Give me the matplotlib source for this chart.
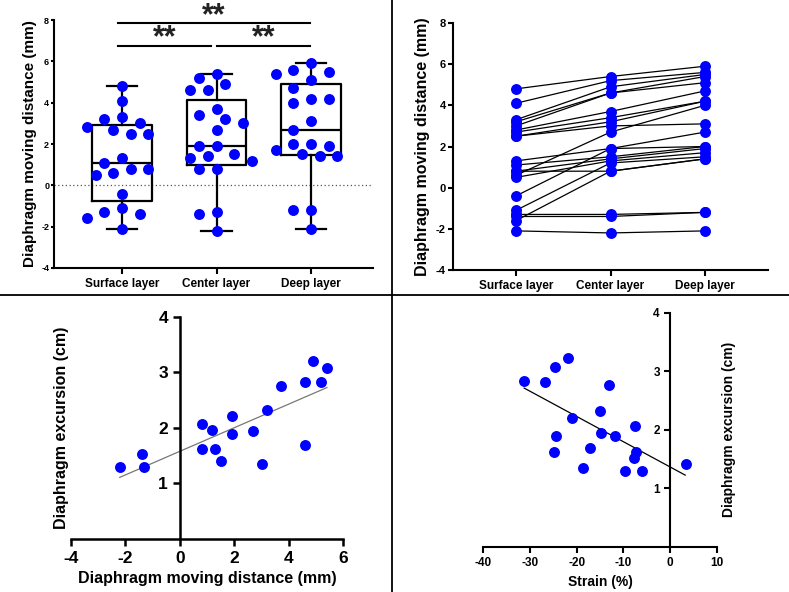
import numpy as np
import matplotlib
matplotlib.use('Agg')
import matplotlib.pyplot as plt

plt.rcParams['font.family'] = ['Liberation Sans', 'DejaVu Sans']
plt.rcParams['font.weight'] = 'bold'
plt.rcParams['axes.unicode_minus'] = False

# ---------------- data ----------------
categories = ['Surface layer', 'Center layer', 'Deep layer']
surface = [4.8, 4.1, 3.3, 3.2, 3.0, 2.8, 2.7, 2.5, 2.5, 0.6, 1.3, -0.4, 1.1, 0.8, 0.8, 0.5, -1.1, -1.6, -1.3, -1.4, -2.1]
center = [5.4, 5.2, 4.9, 4.6, 4.6, 3.7, 3.4, 3.2, 3.0, 2.7, 1.9, 1.9, 1.5, 1.4, 0.8, 1.3, 1.2, 0.8, -1.3, -1.4, -2.2]
deep = [5.9, 5.6, 5.5, 5.4, 5.1, 4.7, 4.2, 4.2, 3.1, 4.0, 2.7, 2.0, 2.0, 1.9, 1.4, 1.7, 1.5, 1.4, -1.2, -1.2, -2.1]

move_dist = [-2.2, -1.4, -1.3, 0.8, 0.8, 1.2, 1.3, 1.5, 1.9, 1.9, 2.7, 3.0, 3.2, 3.7, 4.6, 4.6, 4.9, 5.2, 5.4]
excursion_a = [1.29, 1.53, 1.29, 2.06, 1.61, 1.95, 1.61, 1.40, 2.21, 1.88, 1.94, 1.34, 2.32, 2.76, 2.83, 1.68, 3.21, 2.82, 3.07]

strain = [-31.2, -26.8, -24.6, -21.8, -13.1, -15.1, -20.9, -24.4, -24.9, -14.7, -11.8, -7.5, -17.1, -18.6, -9.6, -6.0, -7.4, -7.8, 3.4]
excursion_b = [2.84, 2.82, 3.07, 3.22, 2.77, 2.32, 2.20, 1.90, 1.62, 1.95, 1.89, 2.07, 1.68, 1.35, 1.30, 1.30, 1.62, 1.52, 1.41]

yticks_top = [-4, -2, 0, 2, 4, 6, 8]
sig_label = '**'

BLUE = '#0000ff'
W, H = 789, 592
fig = plt.figure(figsize=(W / 100, H / 100), dpi=100)


def px_axes(l, t, r, b):
    return fig.add_axes([l / W, 1 - b / H, (r - l) / W, (b - t) / H])


def swarm_offsets(vals, px_per_unit_y, px_per_unit_x, step_px=8.8, min_d=12.5):
    vals = np.asarray(vals, float)
    order = np.argsort(-vals)
    placed = []
    offs = np.zeros(len(vals))
    cands = [0]
    for k in range(1, 8):
        cands += [-k, k]
    for i in order:
        y = vals[i] * px_per_unit_y
        for k in cands:
            x = k * step_px
            if all((x - px) ** 2 + (y - py) ** 2 >= min_d ** 2 for px, py in placed):
                placed.append((x, y))
                offs[i] = x / px_per_unit_x
                break
    return offs


groups = [surface, center, deep]

# ---------------- top-left: box plot ----------------
ax1 = px_axes(54, 20, 373, 268)
ax1.set_xlim(-0.72, 2.656)
ax1.set_ylim(-4, 8)
stats = []
for g in groups:
    a = np.asarray(g)
    q1, med, q3 = np.percentile(a, [25, 50, 75], method='weibull')
    stats.append(dict(med=med, q1=q1, q3=q3, whislo=a.min(), whishi=a.max(), fliers=[]))
ax1.bxp(stats, positions=[0, 1, 2], widths=0.63, showfliers=False,
        boxprops=dict(color='black', lw=1.6), medianprops=dict(color='black', lw=1.6),
        whiskerprops=dict(color='black', lw=1.6), capprops=dict(color='black', lw=1.6),
        capwidths=0.32, zorder=2)
ax1.axhline(0, color='#555555', lw=0.9, ls=(0, (1, 2)), zorder=1)
for i, g in enumerate(groups):
    offs = swarm_offsets(g, 20.67, 94.5)
    ax1.scatter(np.full(len(g), i) + offs, g, s=62, color=BLUE, zorder=3, lw=0)
ax1.set_xticks([0, 1, 2])
ax1.set_xticklabels(categories, fontsize=8.5, fontweight='bold')
ax1.set_yticks(yticks_top)
ax1.tick_params(axis='y', labelsize=6.5, width=1.5, length=2.5, pad=1)
ax1.tick_params(axis='x', width=1.5, length=4)
for s in ['top', 'right']:
    ax1.spines[s].set_visible(False)
for s in ['left', 'bottom']:
    ax1.spines[s].set_linewidth(1.5)
ax1.set_ylabel('Diaphragm moving distance (mm)', fontsize=11, fontweight='bold')
ax1.yaxis.set_label_coords(-0.052, 0.5)
# significance bars
ax1.plot([-0.04, 1.99], [7.84, 7.84], color='black', lw=1.5, clip_on=False)
ax1.plot([-0.04, 0.94], [6.76, 6.76], color='black', lw=1.5, clip_on=False)
ax1.plot([1.01, 1.99], [6.76, 6.76], color='black', lw=1.5, clip_on=False)
ax1.text(0.97, 7.45, sig_label, ha='center', va='bottom', fontsize=22, fontweight='bold', color='#222222', clip_on=False)
ax1.text(0.45, 6.37, sig_label, ha='center', va='bottom', fontsize=22, fontweight='bold', color='#222222')
ax1.text(1.5, 6.37, sig_label, ha='center', va='bottom', fontsize=22, fontweight='bold', color='#222222')

# ---------------- top-right: paired lines ----------------
ax2 = px_axes(453, 23, 768, 270)
ax2.set_xlim(-0.667, 2.667)
ax2.set_ylim(-4, 8)
for a, b, c in zip(surface, center, deep):
    ax2.plot([0, 1, 2], [a, b, c], color='black', lw=0.9, zorder=2)
for i, g in enumerate(groups):
    ax2.scatter(np.full(len(g), i), g, s=62, color=BLUE, zorder=3, lw=0)
ax2.set_xticks([0, 1, 2])
ax2.set_xticklabels(categories, fontsize=8.5, fontweight='bold')
ax2.set_yticks(yticks_top)
ax2.tick_params(axis='y', labelsize=8, width=1.5, length=3.5, pad=1.5)
ax2.tick_params(axis='x', width=1.5, length=4)
for s in ['top', 'right']:
    ax2.spines[s].set_visible(False)
for s in ['left', 'bottom']:
    ax2.spines[s].set_linewidth(1.5)
ax2.set_ylabel('Diaphragm moving distance (mm)', fontsize=11.5, fontweight='bold')
ax2.yaxis.set_label_coords(-0.073, 0.5)

# ---------------- bottom-left: scatter + regression ----------------
ax3 = px_axes(70.7, 316.7, 343.3, 538.7)
ax3.set_xlim(-4, 6)
ax3.set_ylim(0, 4)
ax3.scatter(move_dist, excursion_a, s=62, color=BLUE, zorder=3, lw=0)
k, b0 = np.polyfit(move_dist, excursion_a, 1)
xx = np.array([min(move_dist), max(move_dist)])
ax3.plot(xx, k * xx + b0, color='#777777', lw=0.9, zorder=2)
ax3.spines['left'].set_position(('data', 0))
for s in ['top', 'right']:
    ax3.spines[s].set_visible(False)
for s in ['left', 'bottom']:
    ax3.spines[s].set_linewidth(1.8)
ax3.set_xticks([-4, -2, 0, 2, 4, 6])
ax3.set_yticks([1, 2, 3, 4])
ax3.tick_params(labelsize=12.5, width=1.8, length=5)
ax3.set_xlabel('Diaphragm moving distance (mm)', fontsize=11.5, fontweight='bold', labelpad=4)
ax3.set_ylabel('Diaphragm excursion (cm)', fontsize=11.5, fontweight='bold')
ax3.yaxis.set_label_coords(-0.005, 0.5)

# ---------------- bottom-right: strain scatter ----------------
ax4 = px_axes(483, 312.7, 717, 546.7)
ax4.set_xlim(-40, 10)
ax4.set_ylim(0, 4)
ax4.scatter(strain, excursion_b, s=62, color=BLUE, zorder=3, lw=0)
k2, b2 = np.polyfit(strain, excursion_b, 1)
xx2 = np.array([min(strain), 3.2])
ax4.plot(xx2, k2 * xx2 + b2, color='black', lw=0.9, zorder=2)
ax4.spines['left'].set_position(('data', 0))
for s in ['top', 'right']:
    ax4.spines[s].set_visible(False)
for s in ['left', 'bottom']:
    ax4.spines[s].set_linewidth(1.5)
ax4.set_xticks([-40, -30, -20, -10, 0, 10])
ax4.set_yticks([1, 2, 3, 4])
ax4.tick_params(labelsize=8.5, width=1.5, length=4)
ax4.set_xlabel('Strain (%)', fontsize=10, fontweight='bold', labelpad=4)
ax4.set_ylabel('Diaphragm excursion (cm)', fontsize=10, fontweight='bold')
ax4.yaxis.set_label_coords(1.08, 0.5)

# ---------------- dividers ----------------
fig.add_artist(plt.Line2D([392 / W, 392 / W], [0, 1], color='black', lw=1.3, transform=fig.transFigure))
fig.add_artist(plt.Line2D([0, 1], [1 - 295 / H, 1 - 295 / H], color='black', lw=1.3, transform=fig.transFigure))

fig.savefig('out.png', dpi=100, facecolor='white')
